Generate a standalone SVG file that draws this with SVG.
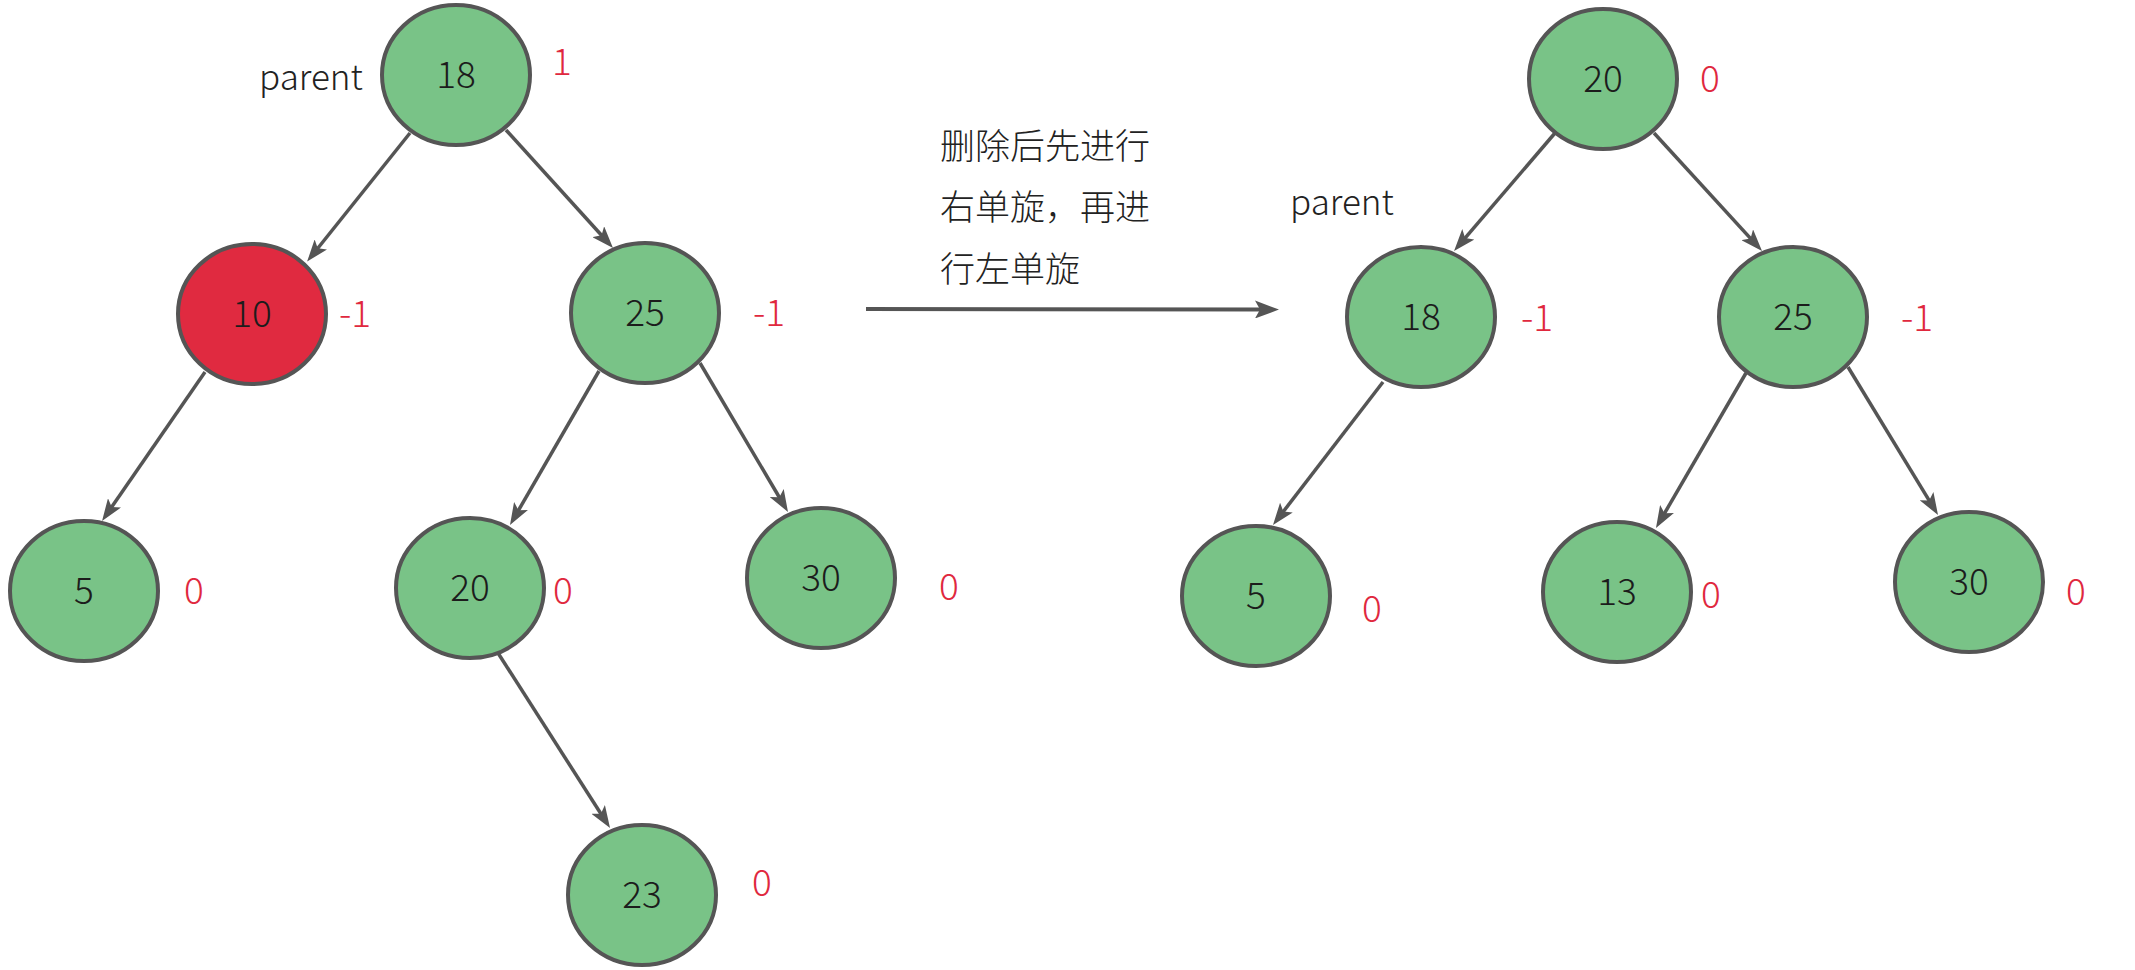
<svg xmlns="http://www.w3.org/2000/svg" width="2135" height="970" viewBox="0 0 2135 970">
<style>
.n{fill:#79c387;stroke:#555;stroke-width:4}
.r{fill:#e02a40;stroke:#555;stroke-width:4}
.t{font-family:"Noto Sans CJK SC","Open Sans",sans-serif;font-size:37px;font-weight:300;fill:#1c1c1c;text-anchor:middle}
.b{font-family:"Noto Sans CJK SC","Open Sans",sans-serif;font-size:37px;font-weight:300;fill:#e0283e;text-anchor:middle}
.p{font-family:"Noto Sans CJK SC","Open Sans",sans-serif;font-size:35px;font-weight:300;fill:#222;text-anchor:middle}
.c{font-family:"Noto Sans CJK SC",sans-serif;font-size:35px;font-weight:300;fill:#222}
.e{fill:none;stroke:#555;stroke-width:3.5;marker-end:url(#ah)}
.m{fill:none;stroke:#555;stroke-width:4;marker-end:url(#ah2)}
</style>
<defs>
<marker id="ah" viewBox="0 0 22 16" refX="11" refY="8" markerWidth="22" markerHeight="16" markerUnits="userSpaceOnUse" orient="auto">
<path d="M0,0 L22,8 L0,16 L5,8 Z" fill="#555"/>
</marker>
<marker id="ah2" viewBox="0 0 24 18" refX="12" refY="9" markerWidth="24" markerHeight="18" markerUnits="userSpaceOnUse" orient="auto">
<path d="M0,0 L24,9 L0,18 L5,9 Z" fill="#555"/>
</marker>
</defs>
<rect width="2135" height="970" fill="#fff"/>
<g id="connectors">
<path class="e" d="M410,133 L314,253"/>
<path class="e" d="M506,130 L605.6,239.8"/>
<path class="e" d="M205,372 L108.3,511.9"/>
<path class="e" d="M599,371 L515.5,515.5"/>
<path class="e" d="M700,363 L782.4,502.5"/>
<path class="e" d="M498,653 L604.1,818.7"/>
<path class="e" d="M1555,133 L1461.2,242.6"/>
<path class="e" d="M1654,133 L1754.6,242.9"/>
<path class="e" d="M1383,382 L1279.7,516.3"/>
<path class="e" d="M1746,373 L1661.5,518.5"/>
<path class="e" d="M1848,367 L1932.3,505.6"/>
<path class="m" d="M866,309 L1267,309.5"/>
</g>
<g id="caption">
<text class="c" x="940" y="143" dominant-baseline="central">删除后先进行</text>
<text class="c" x="940" y="204" dominant-baseline="central">右单旋，再进</text>
<text class="c" x="940" y="266" dominant-baseline="central">行左单旋</text>
</g>
<g id="label-parent-left"><text class="p" x="311" y="90">parent</text></g>
<g id="label-parent-right"><text class="p" x="1342" y="215">parent</text></g>
<g id="L18"><ellipse class="n" cx="456" cy="75" rx="74" ry="70"/><text class="t" x="456" y="88">18</text><text class="b" x="562" y="75">1</text></g>
<g id="L10"><ellipse class="r" cx="252" cy="314" rx="74" ry="70"/><text class="t" x="252" y="327">10</text><text class="b" x="355" y="327">-1</text></g>
<g id="L25"><ellipse class="n" cx="645" cy="313" rx="74" ry="70"/><text class="t" x="645" y="326">25</text><text class="b" x="769" y="326">-1</text></g>
<g id="L5"><ellipse class="n" cx="84" cy="591" rx="74" ry="70"/><text class="t" x="84" y="604">5</text><text class="b" x="194" y="604">0</text></g>
<g id="L20"><ellipse class="n" cx="470" cy="588" rx="74" ry="70"/><text class="t" x="470" y="601">20</text><text class="b" x="563" y="604">0</text></g>
<g id="L30"><ellipse class="n" cx="821" cy="578" rx="74" ry="70"/><text class="t" x="821" y="591">30</text><text class="b" x="949" y="600">0</text></g>
<g id="L23"><ellipse class="n" cx="642" cy="895" rx="74" ry="70"/><text class="t" x="642" y="908">23</text><text class="b" x="762" y="896">0</text></g>
<g id="R20"><ellipse class="n" cx="1603" cy="79" rx="74" ry="70"/><text class="t" x="1603" y="92">20</text><text class="b" x="1710" y="92">0</text></g>
<g id="R18"><ellipse class="n" cx="1421" cy="317" rx="74" ry="70"/><text class="t" x="1421" y="330">18</text><text class="b" x="1537" y="331">-1</text></g>
<g id="R25"><ellipse class="n" cx="1793" cy="317" rx="74" ry="70"/><text class="t" x="1793" y="330">25</text><text class="b" x="1917" y="331">-1</text></g>
<g id="R5"><ellipse class="n" cx="1256" cy="596" rx="74" ry="70"/><text class="t" x="1256" y="609">5</text><text class="b" x="1372" y="622">0</text></g>
<g id="R13"><ellipse class="n" cx="1617" cy="592" rx="74" ry="70"/><text class="t" x="1617" y="605">13</text><text class="b" x="1711" y="608">0</text></g>
<g id="R30"><ellipse class="n" cx="1969" cy="582" rx="74" ry="70"/><text class="t" x="1969" y="595">30</text><text class="b" x="2076" y="605">0</text></g>
</svg>
